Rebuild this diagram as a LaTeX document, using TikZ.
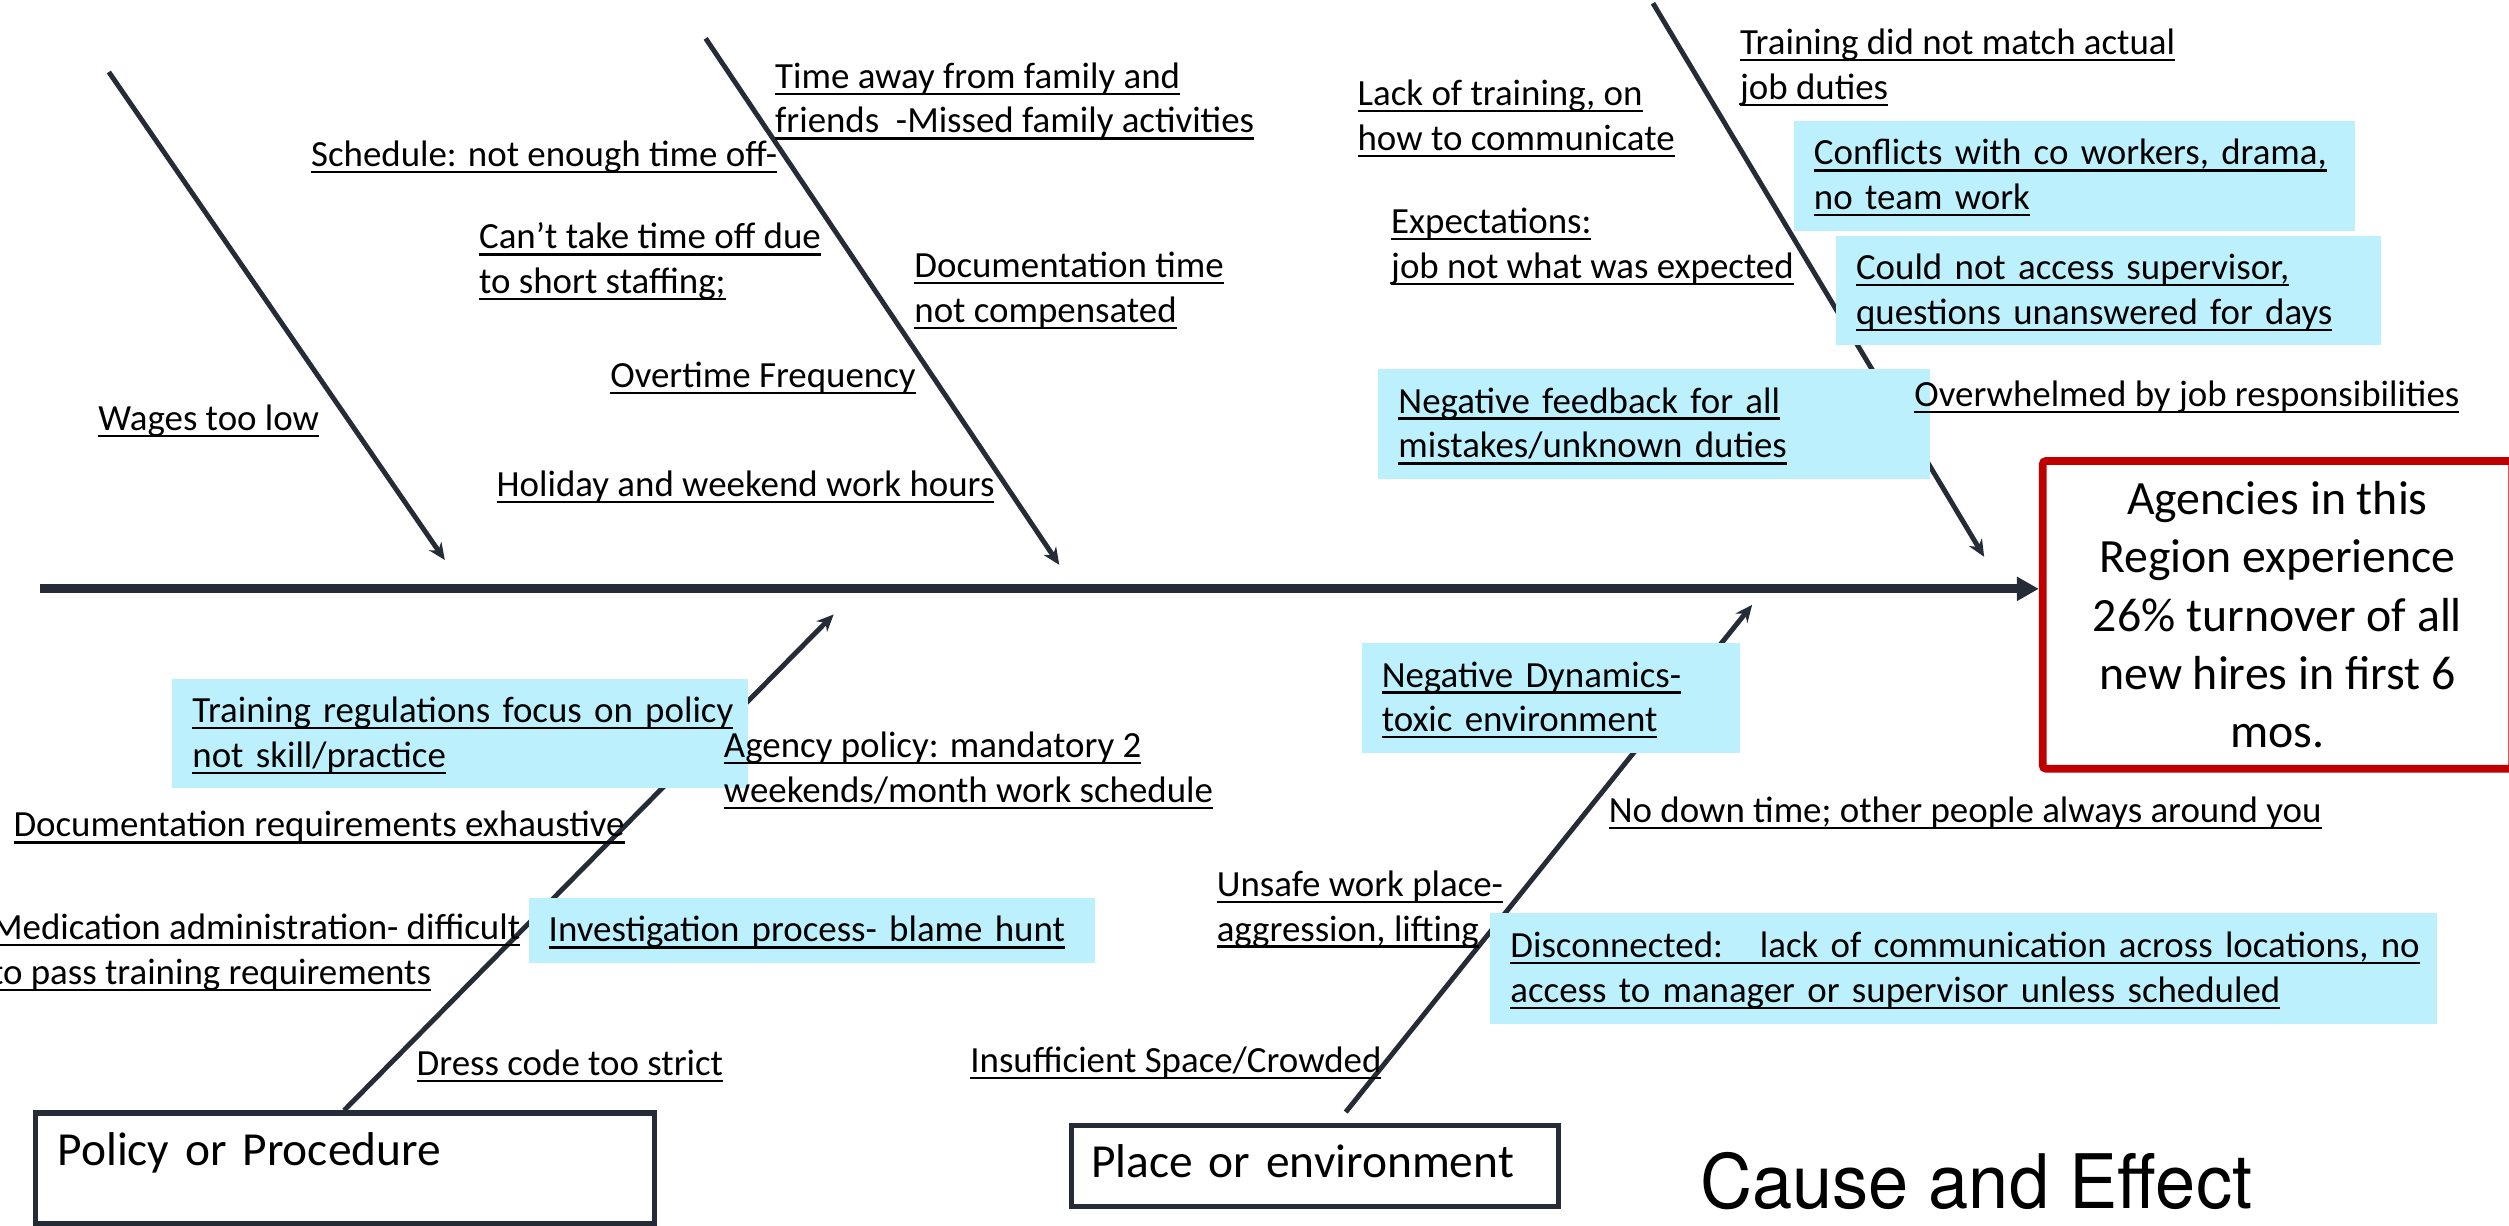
\documentclass[tikz,border=0pt]{standalone}
\usepackage{fontspec}
\setmainfont{Carlito}
\newfontfamily\headfont{TeX Gyre Heros}
\usetikzlibrary{arrows.meta}

\definecolor{bone}{HTML}{252C38}
\definecolor{notefill}{HTML}{BDF0FD}
\definecolor{effectred}{HTML}{C00000}

% underlined line of text at a fixed depth, with a line strut
\newlength\ulwidth
\newcommand\lblstrut{\rule[-3.15pt]{0pt}{12.75pt}}
\newcommand\uln[1]{\settowidth{\ulwidth}{#1}\mbox{\rlap{\rule[-1.9pt]{\ulwidth}{0.65pt}}#1}\lblstrut}
\newcommand\lblfont{\fontsize{10.5}{12.75}\selectfont}
\newcommand\catfont{\fontsize{13.5}{16.4}\selectfont}
\newcommand\effectfont{\fontsize{13.6}{16.6}\selectfont}

\tikzset{
  lbl/.style={font=\lblfont, align=left, inner sep=0pt, anchor=west},
  note/.style={font=\lblfont, align=left, fill=notefill, inner xsep=0.2cm,
    inner ysep=0pt, anchor=north west, minimum height=1.096cm},
  bonearrow/.style={draw=bone, line width=1.4pt,
    -{Stealth[length=0.17cm, width=0.15cm]}},
  spinearrow/.style={draw=bone, line width=2.5pt,
    -{Triangle[length=0.22cm, width=0.23cm]}},
  catbox/.style={draw=bone, line width=1.5pt, font=\catfont, align=left},
  effectbox/.style={draw=effectred, line width=2.2pt, rounded corners=1pt,
    font=\effectfont, align=center, inner sep=0pt}
}

\begin{document}
\begin{tikzpicture}[x=0.016cm, y=-0.016cm]
\path[use as bounding box, clip] (0,0) rectangle (1568,766);

% effect box at the head of the fish
\node[effectbox, minimum width=4.696cm, minimum height=3.08cm] (effect) at (1423.25,384.25)
  {Agencies in this\\Region experience\\26\% turnover of all\\new hires in first 6\\mos.};

% category boxes
\node[catbox, anchor=north west, inner xsep=0.222cm, inner ysep=5pt, text width=5.75cm,
  text height=10pt, text depth=11.4pt] (policy) at (20.5,694) {Policy or Procedure};
\node[catbox, inner xsep=0.197cm, inner ysep=0pt, text width=4.475cm,
  minimum height=0.81cm] (place) at (821.85,728.5) {\strut Place or environment};

% spine
\coordinate (tail) at (25,368);
\draw[spinearrow] (tail) -- (tail -| effect.west);

% bones
\coordinate (b1s) at (68,45);    \coordinate (b1e) at (278,350);
\coordinate (b2s) at (441,24);   \coordinate (b2e) at (662,353);
\coordinate (b3s) at (1033,2);   \coordinate (b3e) at (1240,348);
\coordinate (b4s) at (215,694);  \coordinate (b4e) at (521,384);
\coordinate (b5s) at (841,695);  \coordinate (b5e) at (1095,378);
\draw[bonearrow] (b1s) -- (b1e);
\draw[bonearrow] (b2s) -- (b2e);
\draw[bonearrow] (b3s) -- (b3e);
\draw[bonearrow] (b4s) -- (b4e);
\draw[bonearrow] (b5s) -- (b5e);

% highlighted causes
\node[note, text width=5.216cm, minimum height=1.093cm] (conflicts) at (1120.7,75.4)
  {\uln{Conflicts with co workers, drama,}\\\uln{no team work}};
\node[note, text width=5.048cm] (supervisor) at (1147,147)
  {\uln{Could not access supervisor,}\\\uln{questions unanswered for days}};
\node[note, text width=5.12cm] (feedback) at (861,230.4)
  {\uln{Negative feedback for all}\\\uln{mistakes/unknown duties}};
\node[note, text width=5.36cm] (trainreg) at (107.3,423.7)
  {\uln{Training regulations focus on policy}\\\uln{not skill/practice}};
\node[note, text width=5.264cm, minimum height=0.656cm] (investig) at (330,560.6)
  {\uln{Investigation process- blame hunt}};
\node[note, text width=3.382cm] (dynamics) at (850.6,401.6)
  {\uln{Negative Dynamics-}\\\uln{toxic environment}};
\node[note, text width=9.072cm, minimum height=1.104cm] (disconn) at (931,570.3)
  {\uln{Disconnected:~~~lack of communication across locations, no}\\\uln{access to manager or supervisor unless scheduled}};

% plain causes
\node[lbl] (wages) at (61,262) {\uln{Wages too low}};
\node[lbl] (sched) at (194,97) {\uln{Schedule: not enough time off-}};
\node[lbl] (away) at (484,62) {\uln{Time away from family and}\\\uln{friends~~-Missed family activities}};
\node[lbl] (cant) at (299,162.5) {\uln{Can’t take time off due}\\\uln{to short staffing;}};
\node[lbl] (doctime) at (571,180.5) {\uln{Documentation time}\\\uln{not compensated}};
\node[lbl] (overtime) at (381,235) {\uln{Overtime Frequency}};
\node[lbl] (holiday) at (310,303) {\uln{Holiday and weekend work hours}};
\node[lbl] (lack) at (848,73) {\uln{Lack of training, on}\\\uln{how to communicate}};
\node[lbl] (match) at (1087,41) {\uln{Training did not match actual}\\\uln{job duties}};
\node[lbl] (expect) at (869,153) {\uln{Expectations:}\\\uln{job not what was expected}};
\node[lbl] (overwh) at (1196,247) {\uln{Overwhelmed by job responsibilities}};
\node[lbl] (agency) at (452,480.5) {\uln{Agency policy: mandatory 2}\\\uln{weekends/month work schedule}};
\node[lbl] (docreq) at (8,516) {\uln{Documentation requirements exhaustive}};
\node[lbl] (medic) at (-6,594) {\uln{Medication administration- difficult}\\\uln{to pass training requirements}};
\node[lbl] (dress) at (260,665) {\uln{Dress code too strict}};
\node[lbl] (nodown) at (1005,507) {\uln{No down time; other people always around you}};
\node[lbl] (unsafe) at (760,567) {\uln{Unsafe work place-}\\\uln{aggression, lifting}};
\node[lbl] (insuff) at (606,663) {\uln{Insufficient Space/Crowded}};

% title
\node[anchor=base west, inner sep=0pt] (title) at (1062,755)
  {\headfont\fontsize{21.4}{25}\selectfont\scalebox{0.96}[1]{Cause and Effect}};
\end{tikzpicture}
\end{document}
